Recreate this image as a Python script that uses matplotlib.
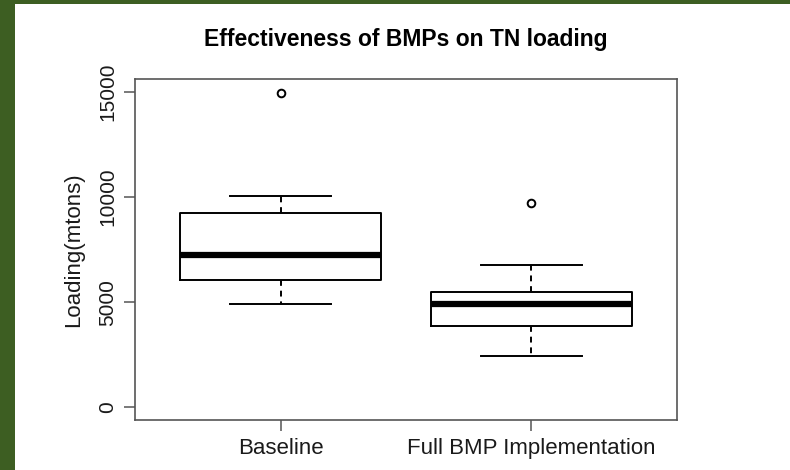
import matplotlib
matplotlib.use("Agg")
import matplotlib.pyplot as plt
from matplotlib.patches import Rectangle

# ---- data ----
categories = ["Baseline", "Full BMP Implementation"]
q1 = [6030, 3850]
median = [7240, 4890]
q3 = [9220, 5480]
whisker_low = [4890, 2420]
whisker_high = [10050, 6770]
outliers = [[14950], [9720]]
y_ticks = [0, 5000, 10000, 15000]

plt.rcParams['font.family'] = ['Liberation Sans', 'DejaVu Sans']

fig = plt.figure(figsize=(7.9, 4.7), dpi=100)
fig.patch.set_facecolor('#3d5e22')
bg = Rectangle((15/790, 0), 1 - 15/790, (470-4)/470,
               transform=fig.transFigure, facecolor='white',
               edgecolor='none', zorder=-10)
fig.patches.append(bg)

ax = fig.add_axes([135/790, 50/470, (677-135)/790, (420-79)/470])
ax.set_zorder(5)
ax.set_facecolor('white')

stats = []
for i, c in enumerate(categories):
    stats.append(dict(label=c, q1=q1[i], med=median[i], q3=q3[i],
                      whislo=whisker_low[i], whishi=whisker_high[i],
                      fliers=outliers[i]))

ax.bxp(stats, positions=[1, 2], widths=0.8, patch_artist=False,
       boxprops=dict(color='black', linewidth=1.4),
       medianprops=dict(color='black', linewidth=4.5, solid_capstyle='butt'),
       whiskerprops=dict(color='black', linewidth=1.4, linestyle=(0, (3, 2.5))),
       capprops=dict(color='black', linewidth=1.4),
       capwidths=0.4,
       flierprops=dict(marker='o', markersize=5.5, markerfacecolor='none',
                       markeredgecolor='black', markeredgewidth=1.4))

ax.set_xlim(0.42, 2.58)
ax.set_ylim(-600, 15600)
ax.set_yticks(y_ticks)
ax.set_yticklabels([str(v) for v in y_ticks], rotation=90, va='center')
ax.set_xticks([1, 2])
ax.set_xticklabels(categories)

for s in ax.spines.values():
    s.set_color('#555555')
    s.set_linewidth(1.2)

ax.tick_params(axis='both', colors='#555555', length=8, width=1.1,
               labelcolor='#1a1a1a')
ax.tick_params(axis='y', pad=5, labelsize=15)
ax.tick_params(axis='x', pad=5, labelsize=16)

ax.set_ylabel("Loading(mtons)", fontsize=16, color='#1a1a1a', labelpad=10)
ax.set_title("Effectiveness of BMPs on TN loading", fontsize=16.5,
             fontweight='bold', color='black', pad=24)

fig.savefig("out.png", dpi=100, facecolor=fig.get_facecolor())
